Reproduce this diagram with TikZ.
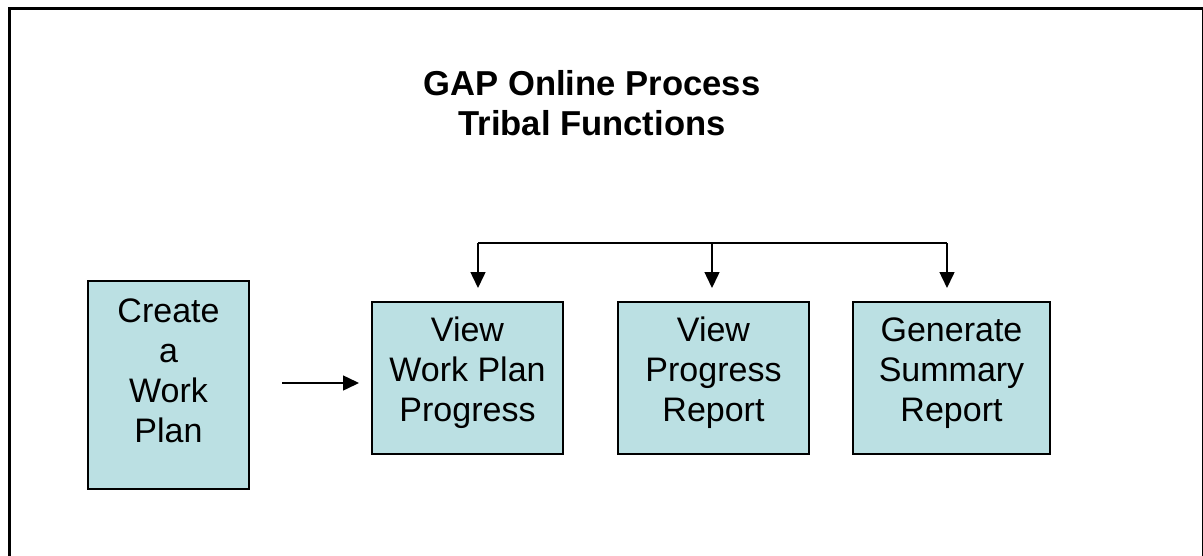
\documentclass[tikz,border=0pt]{standalone}
\usepackage{fontspec}
\setmainfont{Liberation Sans}
\usetikzlibrary{arrows.meta,positioning}
\definecolor{boxblue}{RGB}{187,224,227}

\begin{document}
\begin{tikzpicture}[x=0.5pt, y=-0.5pt, >={Triangle[length=8pt,width=7.5pt]},
        task/.style={draw, fill=boxblue, line width=1pt, inner sep=0pt},
        tasktext/.style={align=center, font=\fontsize{17}{20}\selectfont},
        link/.style={->, line width=0.75pt}]
        \clip (0,0) rectangle (1203,556);
        \useasboundingbox (0,0) rectangle (1203,556);
        % Define frame and title
        \draw[line width=1.5pt] (9,600) |- (1203.5,9) -- (1203.5,600);
        \node[align=center, font=\bfseries\fontsize{17.3}{20}\selectfont] (title) at (592,103) {GAP Online Process\\Tribal Functions};
        
        % Define tasks
        \node[task, minimum width=80.5pt, minimum height=104pt,
              label={[tasktext, yshift=7pt]center:Create\\a\\Work\\Plan}] (create) at (168.5,385) {};
        \node[task, minimum width=95.5pt, minimum height=76pt,
              label={[tasktext, yshift=2.5pt]center:View\\Work Plan\\Progress}] (wp) at (467.5,378) {};
        \node[task, minimum width=95.5pt, minimum height=76pt,
              label={[tasktext, yshift=2.5pt]center:View\\Progress\\Report}] (vpr) at (713.5,378) {};
        \node[task, minimum width=98.5pt, minimum height=76pt,
              label={[tasktext, yshift=2.5pt]center:Generate\\Summary\\Report}] (gsr) at (951.5,378) {};
        
        % Define bus above the views
        \coordinate (busL) at (478,243);
        \coordinate (busM) at (712,243);
        \coordinate (busR) at (947,243);
        \draw[line width=0.75pt] (busL) -- (busR);
        
        % Define transitions
        \path[link]
        (busL) edge ([yshift=6.5pt]busL |- wp.north)
        (busM) edge ([yshift=6.5pt]busM |- vpr.north)
        (busR) edge ([yshift=6.5pt]busR |- gsr.north)
        ([xshift=16pt,yshift=1pt]create.east) edge ([xshift=-6pt,yshift=1pt]create.east -| wp.west);
        
    \end{tikzpicture}
\end{document}
